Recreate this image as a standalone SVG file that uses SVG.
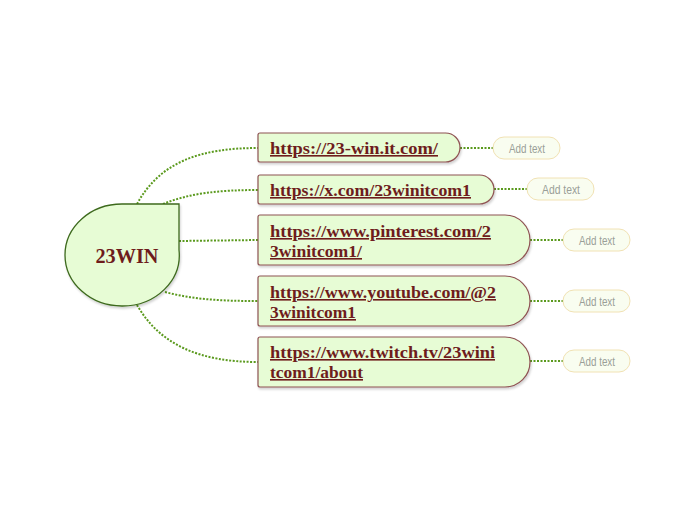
<svg xmlns="http://www.w3.org/2000/svg" width="697" height="520" viewBox="0 0 697 520">
<defs>
<style>
.conn{fill:none;stroke:#5b9a1e;stroke-width:2;stroke-dasharray:2,1.5}
.node{fill:#e7fcd5;stroke:#8e5252;stroke-width:1.2}
.url{font-family:"Liberation Serif","DejaVu Serif",serif;font-weight:bold;font-size:16px;fill:#6e1c1c;text-decoration:underline}
.add{fill:#f9fdf0;stroke:#f1e2b4;stroke-width:1}
.addt{font-family:"Liberation Sans",Arial,sans-serif;font-size:13px;fill:#9a9f98;text-anchor:middle}
</style>
<filter id="sh" x="-10%" y="-10%" width="130%" height="130%">
<feDropShadow dx="1" dy="2" stdDeviation="1.2" flood-color="#000" flood-opacity="0.18"/>
</filter>
</defs>
<rect width="697" height="520" fill="#fff"/>
<g id="connectors">
<path class="conn" d="M137,204 C160,162 200,148 258,148"/>
<path class="conn" d="M163,204 C190,193 220,190 258,190"/>
<path class="conn" d="M179,241 L258,240"/>
<path class="conn" d="M165,292 C195,300 225,301 258,301"/>
<path class="conn" d="M137,305 C160,345 200,362 258,362"/>
<path class="conn" d="M460,148 L493,148"/>
<path class="conn" d="M494,189 L527,189"/>
<path class="conn" d="M530,240 L563,240"/>
<path class="conn" d="M530,301 L563,301"/>
<path class="conn" d="M530,361 L563,361"/>
</g>
<g id="central">
<path d="M122,204 L179,204 L179,250 A57,51 0 0 1 122,306 A57,51 0 0 1 65,255 A57,51 0 0 1 122,204 Z" fill="#e7fcd5" stroke="#3e6a1e" stroke-width="1.3" filter="url(#sh)"/>
<text x="127" y="263" text-anchor="middle" font-family="Liberation Serif,'DejaVu Serif',serif" font-weight="bold" font-size="22" fill="#6e1c1c" textLength="63" lengthAdjust="spacingAndGlyphs">23WIN</text>
</g>
<g id="n1">
<path class="node" filter="url(#sh)" d="M260,133 L445.5,133 A14.5,14.5 0 0 1 445.5,162 L260,162 A2,2 0 0 1 258,160 L258,135 A2,2 0 0 1 260,133 Z"/>
<text class="url" x="270" y="154" textLength="168" lengthAdjust="spacingAndGlyphs">https://23-win.it.com/</text>
</g>
<g id="n2">
<path class="node" filter="url(#sh)" d="M260,175 L479.5,175 A14.5,14.5 0 0 1 479.5,204 L260,204 A2,2 0 0 1 258,202 L258,177 A2,2 0 0 1 260,175 Z"/>
<text class="url" x="270" y="196" textLength="201" lengthAdjust="spacingAndGlyphs">https://x.com/23winitcom1</text>
</g>
<g id="n3">
<path class="node" filter="url(#sh)" d="M260,215 L505,215 A25,25 0 0 1 505,265 L260,265 A2,2 0 0 1 258,263 L258,217 A2,2 0 0 1 260,215 Z"/>
<text class="url" x="270" y="237" textLength="221" lengthAdjust="spacingAndGlyphs">https://www.pinterest.com/2</text>
<text class="url" x="270" y="257" textLength="92" lengthAdjust="spacingAndGlyphs">3winitcom1/</text>
</g>
<g id="n4">
<path class="node" filter="url(#sh)" d="M260,276 L505,276 A25,25 0 0 1 505,326 L260,326 A2,2 0 0 1 258,324 L258,278 A2,2 0 0 1 260,276 Z"/>
<text class="url" x="270" y="298" textLength="226" lengthAdjust="spacingAndGlyphs">https://www.youtube.com/@2</text>
<text class="url" x="270" y="318" textLength="86" lengthAdjust="spacingAndGlyphs">3winitcom1</text>
</g>
<g id="n5">
<path class="node" filter="url(#sh)" d="M260,337 L505,337 A25,25 0 0 1 505,387 L260,387 A2,2 0 0 1 258,385 L258,339 A2,2 0 0 1 260,337 Z"/>
<text class="url" x="270" y="358" textLength="225" lengthAdjust="spacingAndGlyphs">https://www.twitch.tv/23wini</text>
<text class="url" x="270" y="378" textLength="93" lengthAdjust="spacingAndGlyphs">tcom1/about</text>
</g>
<g id="a1">
<rect class="add" x="493" y="137" width="67" height="22" rx="11"/>
<text class="addt" x="527" y="152.5" textLength="36" lengthAdjust="spacingAndGlyphs">Add text</text>
</g>
<g id="a2">
<rect class="add" x="527" y="178" width="67" height="22" rx="11"/>
<text class="addt" x="561" y="193.5" textLength="38" lengthAdjust="spacingAndGlyphs">Add text</text>
</g>
<g id="a3">
<rect class="add" x="563" y="229" width="67" height="22" rx="11"/>
<text class="addt" x="597" y="244.5" textLength="36" lengthAdjust="spacingAndGlyphs">Add text</text>
</g>
<g id="a4">
<rect class="add" x="563" y="290" width="67" height="22" rx="11"/>
<text class="addt" x="597" y="305.5" textLength="36" lengthAdjust="spacingAndGlyphs">Add text</text>
</g>
<g id="a5">
<rect class="add" x="563" y="350" width="67" height="22" rx="11"/>
<text class="addt" x="597" y="365.5" textLength="36" lengthAdjust="spacingAndGlyphs">Add text</text>
</g>
</svg>
